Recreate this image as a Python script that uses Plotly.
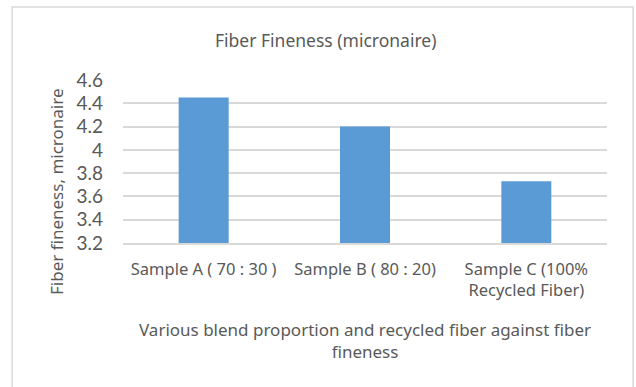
import plotly.graph_objects as go

# Sample categories and measured micronaire values
categories = ["Sample A ( 70 : 30 )", "Sample B ( 80 : 20)", "Sample C (100%<br>Recycled Fiber)"]
micronaire = [4.45, 4.2, 3.73]
y_ticks = [3.2, 3.4, 3.6, 3.8, 4.0, 4.2, 4.4, 4.6]
y_tick_labels = ["3.2", "3.4", "3.6", "3.8", "4", "4.2", "4.4", "4.6"]

title_text = "Fiber Fineness (micronaire)"
x_title = "Various blend proportion and recycled fiber against fiber<br>fineness"
y_title = "Fiber fineness, micronaire"

TEXT = "#595959"
FONT = "Noto Sans"
TICK_FONT = "Lato"

fig = go.Figure(
    go.Bar(
        x=categories,
        y=micronaire,
        marker=dict(color="#5B9BD5", line=dict(width=0)),
        hoverinfo="x+y",
    )
)

fig.update_layout(
    width=636,
    height=387,
    margin=dict(l=123, r=29, t=80, b=144),
    paper_bgcolor="white",
    plot_bgcolor="white",
    bargap=0.69,
    showlegend=False,
    font=dict(family=FONT, color=TEXT),
    xaxis=dict(
        tickfont=dict(size=16.5, color=TEXT, family=FONT),
        showline=True,
        linecolor="#D9D9D9",
        linewidth=1.5,
        ticks="",
        showgrid=False,
        ticklabelstandoff=10,
    ),
    yaxis=dict(
        range=[3.2, 4.6],
        tickvals=y_ticks,
        ticktext=y_tick_labels,
        tickfont=dict(size=19, color=TEXT, family=TICK_FONT),
        showgrid=True,
        gridcolor="#D9D9D9",
        gridwidth=1.5,
        zeroline=False,
        ticks="",
        ticklabelstandoff=19,
    ),
    shapes=[
        dict(
            type="rect", xref="paper", yref="paper",
            x0=-0.229, x1=1.054, y0=-0.95, y1=1.448,
            line=dict(color="#D9D9D9", width=1.5),
            fillcolor="rgba(0,0,0,0)", layer="below",
        )
    ],
    annotations=[
        dict(
            text=title_text, xref="paper", yref="paper",
            x=(325 - 123) / 484, y=(243 - 40) / 163,
            xanchor="center", yanchor="middle", showarrow=False,
            font=dict(size=17.5, color=TEXT, family=FONT),
        ),
        dict(
            text=x_title, xref="paper", yref="paper",
            x=(365 - 123) / 484, y=(243 - 340) / 163,
            xanchor="center", yanchor="middle", showarrow=False,
            font=dict(size=17, color=TEXT, family=FONT),
        ),
        dict(
            text=y_title, xref="paper", yref="paper",
            x=(56 - 123) / 484, y=(243 - 192) / 163,
            xanchor="center", yanchor="middle", showarrow=False,
            textangle=-90,
            font=dict(size=17, color=TEXT, family=FONT),
        ),
    ],
)

fig.write_html("out.html")
